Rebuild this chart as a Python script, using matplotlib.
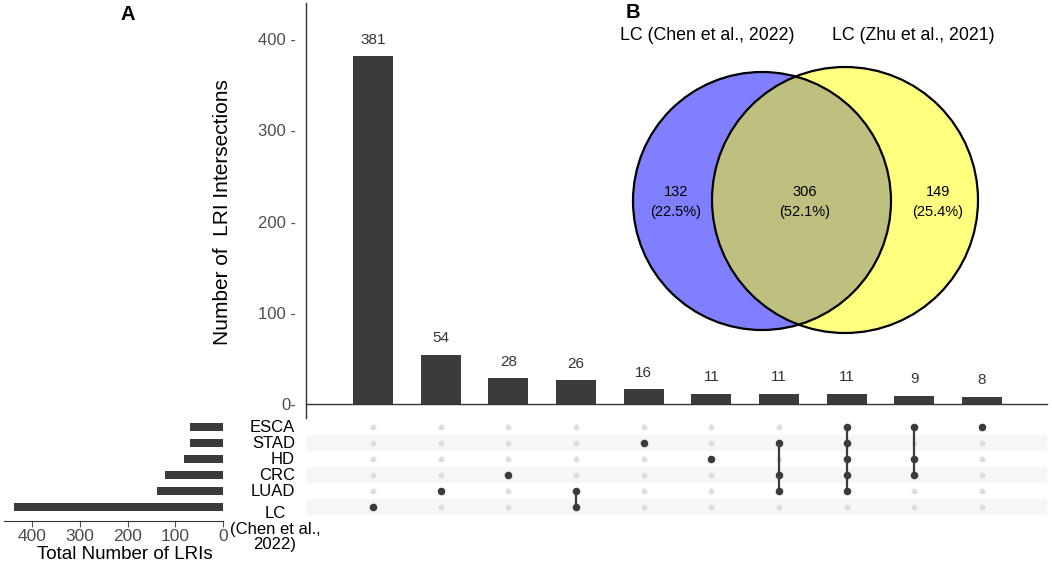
"""UpSet plot of LRI intersections across tumour sets (A) plus a two-set
Venn of the two LC LRI lists (B)."""
import matplotlib
matplotlib.use("Agg")
import matplotlib.pyplot as plt
import matplotlib.transforms as mtrans
from matplotlib.patches import Circle

plt.rcParams["font.family"] = ["Liberation Sans", "DejaVu Sans"]

# ------------------------------------------------------------------ data
SETS = ["ESCA", "STAD", "HD", "CRC", "LUAD", "LC"]
SET_LABELS = ["ESCA", "STAD", "HD", "CRC", "LUAD", "LC\n(Chen et al.,\n2022)"]
SET_SIZES = [69, 69, 81, 122, 137, 438]

INTER_COUNTS = [381, 54, 28, 26, 16, 11, 11, 11, 9, 8]
INTER_MEMBERS = [
    ["LC"],
    ["LUAD"],
    ["CRC"],
    ["LUAD", "LC"],
    ["STAD"],
    ["HD"],
    ["STAD", "CRC", "LUAD"],
    ["ESCA", "STAD", "HD", "CRC", "LUAD"],
    ["ESCA", "HD", "CRC"],
    ["ESCA"],
]
Y_TICKS = [0, 100, 200, 300, 400]
SIZE_TICKS = [400, 300, 200, 100, 0]

VENN_NAMES = ["LC (Chen et al., 2022)", "LC (Zhu et al., 2021)"]
VENN_COUNTS = [132, 306, 149]        # Chen only, both, Zhu only

# ---------------------------------------------------------------- layout
W, H = 1052, 567
DARK = "#3b3b3b"
GREY = "#4d4d4d"
XLIM = (-0.99, 9.96)


def box(x0, y0, x1, y1):
    """pixel box (origin top-left) -> add_axes rect"""
    return [x0 / W, 1 - y1 / H, (x1 - x0) / W, (y1 - y0) / H]


def main():
    fig = plt.figure(figsize=(W / 100, H / 100), dpi=100)
    n = len(INTER_COUNTS)

    # ---- intersection bars
    bx = fig.add_axes(box(306, 3, 1047, 404))
    bx.bar(range(n), INTER_COUNTS, width=0.59, color=DARK)
    for c, v in enumerate(INTER_COUNTS):
        bx.annotate(str(v), (c, v), xytext=(0, 7), textcoords="offset points",
                    ha="center", va="bottom", fontsize=11, color="#333333")
    bx.set_xlim(*XLIM)
    bx.set_ylim(0, 439.5)
    bx.set_xticks([])
    bx.set_yticks(Y_TICKS)
    bx.set_yticklabels([f"{t}-" if t == 0 else f"{t} -" for t in Y_TICKS])
    bx.tick_params(axis="y", length=0, pad=7, labelsize=12, labelcolor=GREY)
    for s in ("top", "right"):
        bx.spines[s].set_visible(False)
    for s in ("left", "bottom"):
        bx.spines[s].set_color("#333333")
        bx.spines[s].set_linewidth(1.0)
    bx.spines["left"].set_bounds(-15.3, 439.5)
    bx.set_ylabel("Number of  LRI Intersections", fontsize=15)
    bx.yaxis.set_label_coords(-0.1, 0.479)

    # ---- dot matrix
    mx = fig.add_axes(box(306, 419, 1047, 515))
    mx.set_xlim(*XLIM)
    mx.set_ylim(len(SETS) - 0.5, -0.5)
    for r in range(1, len(SETS), 2):
        mx.axhspan(r - 0.5, r + 0.5, color="#f6f6f6", lw=0, zorder=0)
    for c, members in enumerate(INTER_MEMBERS):
        rows = [SETS.index(m) for m in members]
        mx.scatter([c] * len(SETS), range(len(SETS)), s=18, color="#dedede",
                   lw=0, zorder=1)
        if len(rows) > 1:
            mx.plot([c, c], [min(rows), max(rows)], color=DARK, lw=1.6, zorder=2)
        mx.scatter([c] * len(rows), rows, s=30, color=DARK, lw=0, zorder=3)
    mx.axis("off")

    lab_tr = mtrans.blended_transform_factory(fig.transFigure, mx.transData)
    for r, lab in enumerate(SET_LABELS):
        if "\n" in lab:
            fig.text(275 / W, r - 0.05, lab, transform=lab_tr, ha="center",
                     va="top", fontsize=12, linespacing=1.05)
        else:
            fig.text(295 / W, r, lab, transform=lab_tr, ha="right",
                     va="center", fontsize=12)

    # ---- set sizes
    sx = fig.add_axes(box(4, 419, 222.7, 521))
    sx.barh(range(len(SETS)), SET_SIZES, height=0.47, color=DARK)
    sx.set_xlim(459.5, 0)
    sx.set_ylim(-0.5 + 102 / 16, -0.5)
    sx.set_yticks([])
    sx.set_xticks(SIZE_TICKS)
    sx.tick_params(axis="x", length=4, pad=2, labelsize=12.5, labelcolor=GREY,
                   color=GREY)
    for s in ("top", "right", "left"):
        sx.spines[s].set_visible(False)
    sx.spines["bottom"].set_color("#333333")
    sx.set_xlabel("Total Number of LRIs", fontsize=13.5)
    sx.xaxis.set_label_coords(0.553, -0.333)
    sx.xaxis.label.set_va("center")

    # ---- venn (axes in pixel units)
    vx = fig.add_axes(box(600, 0, 1052, 340), zorder=5)
    vx.set_xlim(600, 1052)
    vx.set_ylim(340, 0)
    vx.axis("off")
    circles = [((762, 201), 129, (0, 0, 1, 0.5)), ((845, 200), 133, (1, 1, 0, 0.5))]
    for (cx, cy), rad, fc in circles:
        vx.add_patch(Circle((cx, cy), rad, fc=fc, ec="none"))
    for (cx, cy), rad, _ in circles:
        vx.add_patch(Circle((cx, cy), rad, fill=False, ec="black", lw=1.6))
    total = sum(VENN_COUNTS)
    for x, v in zip([676, 805, 938], VENN_COUNTS):
        vx.text(x, 202, f"{v}\n({100 * v / total:.1f}%)", ha="center",
                va="center", fontsize=10.5, linespacing=1.5)
    for x, name in zip([707, 913], VENN_NAMES):
        vx.text(x, 36, name, ha="center", va="center", fontsize=12.8)

    fig.text(128 / W, 1 - 14 / H, "A", ha="center", va="center",
             fontsize=14.5, fontweight="bold")
    fig.text(633 / W, 1 - 13 / H, "B", ha="center", va="center",
             fontsize=14.5, fontweight="bold")

    fig.savefig("out.png", dpi=100)


if __name__ == "__main__":
    main()
